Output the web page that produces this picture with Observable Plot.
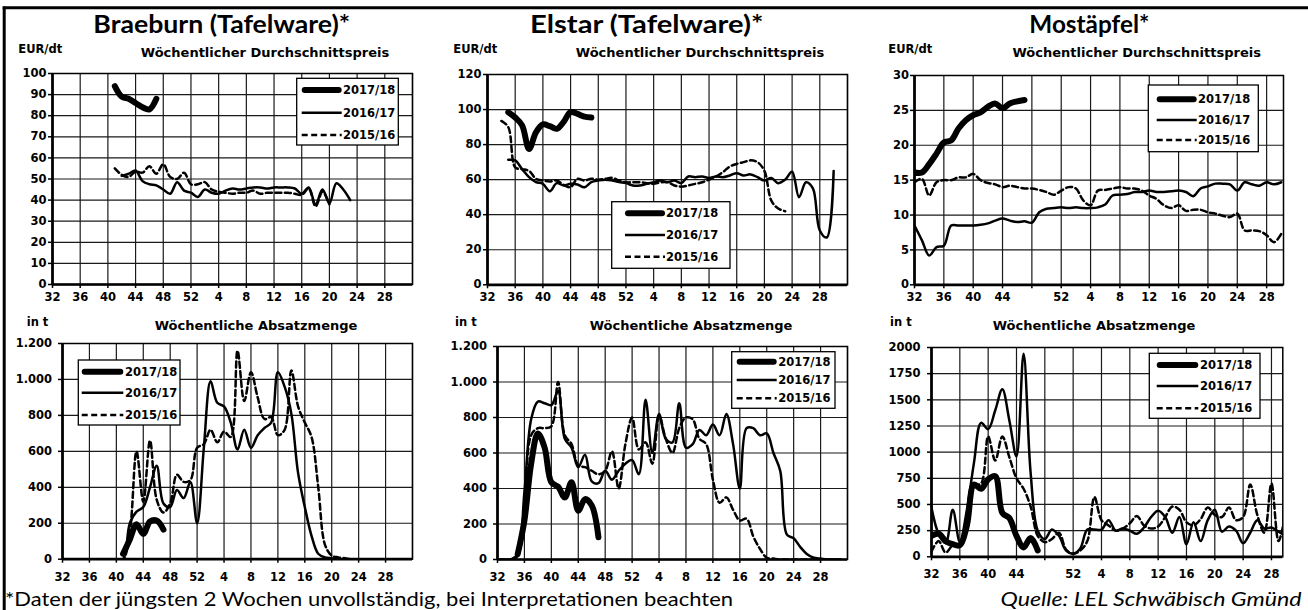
<!DOCTYPE html>
<html><head><meta charset="utf-8">
<script src="https://cdn.jsdelivr.net/npm/d3@7"></script>
<script src="https://cdn.jsdelivr.net/npm/@observablehq/plot@0.6"></script>
<style>
html,body{margin:0;padding:0;background:#fff;}
#root{position:relative;width:1308px;height:610px;overflow:hidden;background:#fff;}
#root svg{position:absolute;overflow:visible;}
</style></head><body><div id="root"></div>
<script>
// ---------------- DATA ----------------
const seasons = ["2017/18", "2016/17", "2015/16"];
const weekTickIdx = [0, 4, 8, 12, 16, 20, 24, 28, 32, 36, 40, 44, 48];
const weekLabels = ["32", "36", "40", "44", "48", "52", "4", "8", "12", "16", "20", "24", "28"];
const weekLabelsMost = ["32", "36", "40", "44", "", "52", "4", "8", "12", "16", "20", "24", "28"];

const titles = ["Braeburn (Tafelware)*", "Elstar (Tafelware)*", "Mostäpfel*"];
const priceTitle = "Wöchentlicher Durchschnittspreis";
const qtyTitle = "Wöchentliche Absatzmenge";
const priceUnit = "EUR/dt";
const qtyUnit = "in t";
const footnote = "*Daten der jüngsten 2 Wochen unvollständig, bei Interpretationen beachten";
const source = "Quelle: LEL Schwäbisch Gmünd";

const ticksPrice100 = [0, 10, 20, 30, 40, 50, 60, 70, 80, 90, 100];
const ticksPrice120 = [0, 20, 40, 60, 80, 100, 120];
const ticksPrice30 = [0, 5, 10, 15, 20, 25, 30];
const ticksQty1200 = [0, 200, 400, 600, 800, 1000, 1200];
const ticksQty2000 = [0, 250, 500, 750, 1000, 1250, 1500, 1750, 2000];

// Braeburn price (EUR/dt); first calendar week of each series
const braeburnPreisStart = [41, 42, 41];
const braeburnPreis1718 = [94, 89, 88, 86, 84, 83, 88];
const braeburnPreis1617 = [51.5, 52.5, 54, 49, 47.5, 47, 45, 43, 48.5, 44.5, 43.5, 41.5, 45, 43.5, 43, 44.5, 45.5, 45, 45.5, 46, 46, 45.5, 46, 46, 46, 45.5, 43, 46, 38, 45, 38.5, 48, 45, 40];
const braeburnPreis1516 = [55, 52, 51, 53.5, 53, 56, 52.5, 57, 51, 50, 53, 47.5, 47.5, 48.5, 45, 44, 43.5, 43, 43.5, 43.5, 44.5, 43, 43.5, 43.5, 43.5, 43.5, 43, 42.5, 45.5, 37, 44, 38];

// Elstar price
const elstarPreisStart = [35, 35, 34];
const elstarPreis1718 = [98.5, 95.5, 91, 77.5, 87, 91.5, 90.5, 89, 93, 98.5, 97.5, 96, 95.5];
const elstarPreis1617 = [71.3, 71, 66, 61.4, 58.6, 57.6, 53.4, 58, 56.7, 57.6, 57.2, 55.7, 58.6, 59.5, 60, 59.5, 58.6, 58, 56.7, 56.7, 57.6, 58.5, 59.5, 58.6, 59.5, 58, 61.8, 61.4, 61.8, 61, 61.8, 61.4, 62.4, 63.7, 62.4, 63, 61.4, 59.5, 61, 58, 60, 64.5, 50, 58.5, 55, 31, 27, 65];
const elstarPreis1516 = [93.5, 90, 67, 66, 65, 60.5, 59.5, 59, 59.5, 57, 55.7, 60.5, 59.5, 60.5, 60, 60.5, 61, 59.5, 58.5, 58.5, 58.5, 58, 57.6, 58.5, 58.5, 56.7, 56, 56.7, 57.6, 58.5, 60, 61.8, 64.3, 67.5, 69, 70, 71, 70, 65, 48, 43.5, 42];

// Mostäpfel price
const mostPreisStart = [32, 32, 32];
const mostPreis1718 = [16.1, 16.1, 17.3, 18.8, 20.4, 20.7, 22.4, 23.6, 24.3, 24.7, 25.5, 26.0, 25.3, 26.0, 26.3, 26.5];
const mostPreis1617 = [8.5, 6.4, 4.2, 5.4, 5.6, 8.5, 8.5, 8.5, 8.5, 8.6, 8.8, 9.2, 9.5, 9.2, 9.0, 9.1, 8.9, 10.4, 10.9, 11.0, 11.1, 11.0, 11.1, 11.0, 11.0, 11.1, 11.5, 12.8, 12.9, 13.0, 13.3, 13.3, 13.5, 13.3, 13.3, 13.4, 13.5, 13.3, 12.7, 13.8, 14.1, 14.5, 14.5, 14.4, 13.5, 14.7, 14.4, 14.2, 14.7, 14.4, 14.7];
const mostPreis1516 = [14.7, 15.2, 12.8, 14.7, 15.0, 15.0, 15.4, 15.4, 15.9, 15.0, 14.6, 14.4, 14.0, 14.2, 14.0, 13.8, 13.8, 13.6, 13.3, 12.9, 13.5, 14.0, 13.8, 12.1, 11.4, 13.5, 13.6, 13.8, 14.0, 13.8, 13.8, 13.5, 12.8, 12.3, 11.4, 11.0, 11.4, 10.6, 10.75, 10.75, 10.4, 10.2, 9.9, 9.7, 10.2, 7.8, 7.8, 7.7, 7.1, 6.1, 7.3];

// Braeburn quantity (t)
const braeburnMengeStart = [41, 32, 32];
const braeburnMenge1718 = [30, 110, 195, 140, 210, 215, 165];
const braeburnMenge1617 = [0, 0, 0, 0, 0, 0, 0, 0, 0, 0, 200, 265, 290, 400, 520, 310, 290, 385, 340, 430, 200, 620, 990, 870, 850, 760, 610, 720, 620, 690, 730, 760, 1040, 960, 810, 480, 290, 130, 30, 10, 5, 0, 0, 0, 0, 0, 0, 0, 0, 0, 0, 0];
const braeburnMenge1516 = [0, 0, 0, 0, 0, 0, 0, 0, 0, 0, 150, 600, 320, 660, 330, 260, 310, 470, 430, 440, 620, 640, 720, 650, 710, 680, 1160, 880, 1040, 900, 780, 790, 690, 720, 1050, 850, 760, 680, 400, 80, 20, 10, 5, 0, 0, 0, 0, 0, 0, 0, 0, 0];

// Elstar quantity
const elstarMengeStart = [35, 32, 32];
const elstarMenge1718 = [30, 220, 540, 710, 630, 435, 410, 350, 435, 275, 340, 305, 125];
const elstarMenge1617 = [0, 0, 0, 30, 380, 790, 890, 880, 870, 950, 680, 630, 520, 590, 440, 430, 500, 450, 500, 540, 560, 480, 900, 600, 820, 680, 660, 880, 630, 650, 730, 700, 760, 700, 820, 650, 400, 740, 740, 700, 710, 600, 500, 140, 120, 70, 30, 10, 5, 0, 0, 0];
const elstarMenge1516 = [0, 0, 0, 20, 300, 700, 740, 740, 750, 1000, 700, 650, 530, 520, 500, 480, 500, 610, 400, 650, 800, 620, 660, 540, 810, 680, 600, 740, 800, 790, 680, 650, 450, 320, 350, 280, 220, 230, 130, 60, 10, 5, 0, 0, 0, 0, 0, 0, 0, 0, 0, 0];

// Mostäpfel quantity
const mostMengeStart = [32, 32, 32];
const mostMenge1718 = [200, 220, 150, 120, 110, 300, 690, 650, 740, 770, 420, 370, 200, 90, 180, 60];
const mostMenge1617 = [470, 220, 130, 450, 140, 450, 900, 1280, 1220, 1400, 1600, 1300, 960, 1940, 800, 250, 170, 260, 200, 60, 30, 80, 260, 260, 260, 350, 250, 270, 250, 220, 280, 380, 440, 380, 230, 380, 120, 330, 150, 350, 450, 240, 290, 250, 130, 230, 350, 270, 280, 240, 200];
const mostMenge1516 = [50, 150, 40, 110, 120, 350, 680, 700, 1150, 920, 1150, 950, 750, 650, 480, 200, 140, 170, 230, 70, 30, 60, 150, 570, 350, 300, 250, 270, 320, 390, 300, 270, 290, 380, 480, 450, 330, 300, 360, 470, 400, 380, 470, 350, 380, 690, 400, 230, 700, 150, 420];

// ---------------- HELPERS ----------------
const weekIndex = w => (w >= 32 ? w - 32 : w + 20);
const ser = (firstWeek, values) => values.map((v, k) => ({i: weekIndex(firstWeek) + k, v}));
const deFmt = d => (d >= 1000 ? d3.format(",")(d).replace(/,/g, ".") : String(d));

const root = document.getElementById("root");
const FONT = "'DejaVu Sans', sans-serif";

const styles = [
  {strokeWidth: 6},
  {strokeWidth: 2.5},
  {strokeWidth: 2.5, strokeDasharray: "6,3.5"}
];

function panel(cfg) {
  const ml = 60, mr = 12, mt = 12, mb = 36;
  const W = cfg.x1 - cfg.x0 + ml + mr;
  const H = cfg.y1 - cfg.y0 + mt + mb;
  const labelMap = new Map(weekTickIdx.map((d, k) => [d, cfg.labels[k]]));
  const grid = d3.range(0, cfg.xmax + 0.001, 4);
  const series = cfg.series.map((vals, k) => ser(cfg.starts[k], vals));
  const marks = [
    Plot.ruleY(cfg.yTicks, {y: d => d, stroke: "#1a1a1a", strokeWidth: 1.2}),
    Plot.ruleX(grid, {x: d => d, stroke: "#1a1a1a", strokeWidth: 1.2}),
    Plot.frame({stroke: "#000", strokeWidth: 1.5}),
    Plot.axisY(cfg.yTicks, {tickSize: 4, tickPadding: cfg.yPad, tickFormat: cfg.fmt, label: null, strokeWidth: 1.5}),
    Plot.axisX(weekTickIdx, {tickSize: 4, tickPadding: cfg.xPad, tickFormat: d => labelMap.get(d), label: null, strokeWidth: 1.5})
  ];
  [2, 1, 0].forEach(k => {
    marks.push(Plot.line(series[k], {x: d => d.i, y: d => d.v, curve: "catmull-rom", stroke: "#000", clip: true, ...styles[k]}));
  });
  marks.push(Plot.ruleX([0], {x: d => d, stroke: "#000", strokeWidth: 2.7}));
  marks.push(Plot.ruleY([0], {y: d => d, stroke: "#000", strokeWidth: 2.7}));
  const svg = Plot.plot({
    width: W, height: H,
    marginLeft: ml, marginRight: mr, marginTop: mt, marginBottom: mb,
    x: {domain: [0, cfg.xmax], label: null},
    y: {domain: [0, cfg.ymax], label: null},
    style: {fontFamily: FONT, fontWeight: "bold", fontSize: "11.5px", color: "#000", background: "transparent"},
    marks
  });
  svg.style.left = (cfg.x0 - ml) + "px";
  svg.style.top = (cfg.y0 - mt) + "px";
  svg.style.maxWidth = "none";
  root.appendChild(svg);
}

const panels = [
  {x0: 52.3, x1: 412.3, y0: 73.3, y1: 284.3, xmax: 52, ymax: 100, yTicks: ticksPrice100, fmt: d => String(d), yPad: 2, xPad: 4.5, labels: weekLabels,
   starts: braeburnPreisStart, series: [braeburnPreis1718, braeburnPreis1617, braeburnPreis1516]},
  {x0: 487.3, x1: 847.3, y0: 74, y1: 284.3, xmax: 52, ymax: 120, yTicks: ticksPrice120, fmt: d => String(d), yPad: 2, xPad: 4.5, labels: weekLabels,
   starts: elstarPreisStart, series: [elstarPreis1718, elstarPreis1617, elstarPreis1516]},
  {x0: 914.3, x1: 1283.3, y0: 75, y1: 284.3, xmax: 50.3, ymax: 30, yTicks: ticksPrice30, fmt: d => String(d), yPad: 1.5, xPad: 4.5, labels: weekLabelsMost,
   starts: mostPreisStart, series: [mostPreis1718, mostPreis1617, mostPreis1516]},
  {x0: 62.3, x1: 412.3, y0: 343.3, y1: 559, xmax: 52, ymax: 1200, yTicks: ticksQty1200, fmt: deFmt, yPad: 6.5, xPad: 9.5, labels: weekLabels,
   starts: braeburnMengeStart, series: [braeburnMenge1718, braeburnMenge1617, braeburnMenge1516]},
  {x0: 497.3, x1: 847.3, y0: 346, y1: 559, xmax: 52, ymax: 1200, yTicks: ticksQty1200, fmt: deFmt, yPad: 6.5, xPad: 9.5, labels: weekLabels,
   starts: elstarMengeStart, series: [elstarMenge1718, elstarMenge1617, elstarMenge1516]},
  {x0: 931, x1: 1282.3, y0: 346.7, y1: 556, xmax: 49.6, ymax: 2000, yTicks: ticksQty2000, fmt: d => String(d), yPad: 7, xPad: 9, labels: weekLabelsMost,
   starts: mostMengeStart, series: [mostMenge1718, mostMenge1617, mostMenge1516]}
];
panels.forEach(panel);

// ---------------- OVERLAY (frame, titles, legends, notes) ----------------
const ov = d3.create("svg").attr("width", 1308).attr("height", 610)
  .style("left", "0px").style("top", "0px").style("pointer-events", "none");

ov.append("line").attr("x1", 4.2).attr("x2", 4.2).attr("y1", 6.5).attr("y2", 612).attr("stroke", "#000").attr("stroke-width", 3);
ov.append("line").attr("x1", 2.7).attr("x2", 1310).attr("y1", 7.8).attr("y2", 7.8).attr("stroke", "#000").attr("stroke-width", 3);

const titlePos = [{cx: 221.7, w: 256.7}, {cx: 646.7, w: 233.3}, {cx: 1089.3, w: 120}];
titles.forEach((t, k) => {
  ov.append("text").text(t).attr("x", titlePos[k].cx).attr("y", 33.3).attr("text-anchor", "middle")
    .attr("textLength", titlePos[k].w).attr("lengthAdjust", "spacingAndGlyphs")
    .style("font-family", "Lato, 'Noto Sans', sans-serif").style("font-weight", "bold").style("font-size", "25px");
});

const subTop = [{ux: 18.3, cx: 265}, {ux: 453.3, cx: 700}, {ux: 888.3, cx: 1136.7}];
const subBot = [{ux: 26.7, cx: 256}, {ux: 455, cx: 691}, {ux: 890, cx: 1094}];
function label(txt, x, y, size, anchor) {
  ov.append("text").text(txt).attr("x", x).attr("y", y).attr("text-anchor", anchor).attr("dominant-baseline", "central")
    .style("font-family", FONT).style("font-weight", "bold").style("font-size", size + "px");
}
subTop.forEach(p => { label(priceUnit, p.ux, 49.3, 11.5, "start"); label(priceTitle, p.cx, 52.7, 13, "middle"); });
subBot.forEach(p => { label(qtyUnit, p.ux, 321.7, 11.5, "start"); label(qtyTitle, p.cx, 325, 13, "middle"); });

const legends = [
  {bx: 296.7, by: 78.3, bw: 101.6, bh: 66.7, rows: [90, 112.7, 135], lx0: 301.7, lx1: 341.7, tx: 343},
  {bx: 611.7, by: 201.7, bw: 118.3, bh: 66.6, rows: [213.3, 235, 256.7], lx0: 625, lx1: 665, tx: 666},
  {bx: 1148.3, by: 85, bw: 110, bh: 66.7, rows: [99.3, 120, 140], lx0: 1156.7, lx1: 1196.7, tx: 1198},
  {bx: 78.3, by: 360, bw: 101.7, bh: 65, rows: [371.7, 392.7, 415], lx0: 81.7, lx1: 123.3, tx: 125},
  {bx: 731.7, by: 351.7, bw: 103.3, bh: 56.6, rows: [361.7, 380, 398.3], lx0: 736.7, lx1: 776.7, tx: 778.3},
  {bx: 1149.3, by: 353.3, bw: 110.7, bh: 65, rows: [365, 386, 408.3], lx0: 1156.7, lx1: 1198.3, tx: 1200}
];
legends.forEach(L => {
  ov.append("rect").attr("x", L.bx).attr("y", L.by).attr("width", L.bw).attr("height", L.bh)
    .attr("fill", "#fff").attr("stroke", "#000").attr("stroke-width", 1.3);
  seasons.forEach((s, k) => {
    const inset = k === 0 ? 3 : 0;
    const ln = ov.append("line").attr("x1", L.lx0 + inset).attr("x2", L.lx1 - inset).attr("y1", L.rows[k]).attr("y2", L.rows[k])
      .attr("stroke", "#000").attr("stroke-width", styles[k].strokeWidth).attr("stroke-linecap", k === 0 ? "round" : "butt");
    if (styles[k].strokeDasharray) ln.attr("stroke-dasharray", styles[k].strokeDasharray);
    label(s, L.tx, L.rows[k], 11.5, "start");
  });
});

ov.append("text").text(footnote).attr("x", 5).attr("y", 605.5).attr("textLength", 728).attr("lengthAdjust", "spacingAndGlyphs")
  .style("font-family", "Lato, 'Noto Sans', sans-serif").style("font-size", "20px");
ov.append("text").text(source).attr("x", 1301.5).attr("y", 605.5).attr("text-anchor", "end")
  .attr("textLength", 301).attr("lengthAdjust", "spacingAndGlyphs")
  .style("font-family", "Lato, 'Noto Sans', sans-serif").style("font-style", "italic").style("font-size", "20px");

root.appendChild(ov.node());
</script></body></html>
